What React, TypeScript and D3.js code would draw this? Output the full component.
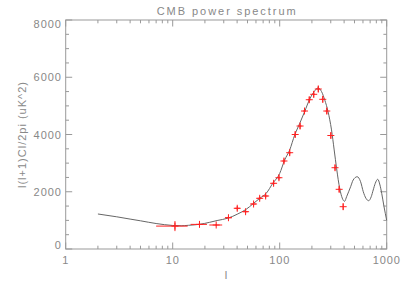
import * as d3 from 'd3'

// theory curve (multipole l, l(l+1)Cl/2pi)
const curveL = [2, 3, 4, 5, 7, 10, 12, 14, 18, 22, 26, 32.7, 40.6, 48.7, 56, 65, 75, 86, 100, 111, 124, 138, 154, 171, 191, 210, 228, 246, 264, 283, 305, 323, 340, 365, 404, 422, 460, 486, 530, 570, 604, 640, 678, 717, 748, 782, 824, 865, 898, 944, 1000]
const curveCl = [1223, 1125, 1045, 985, 890, 822, 812, 828, 865, 930, 995, 1075, 1225, 1390, 1570, 1770, 1950, 2290, 2640, 3100, 3460, 3980, 4390, 4800, 5240, 5500, 5625, 5500, 5200, 4800, 4160, 3460, 2820, 2090, 1666, 1827, 2176, 2410, 2525, 2351, 2001, 1771, 1687, 1827, 2061, 2295, 2435, 2236, 1946, 1478, 1000]

// measured band powers
const obsL = [10.5, 17.8, 25.5, 33.2, 40.1, 48, 57, 65, 73.9, 87.7, 98.4, 109.6, 124, 139.6, 155, 170.6, 188.9, 208, 229.4, 252.7, 275.6, 300.5, 329, 359.5, 391.8]
const obsCl = [800, 860, 838, 1093, 1422, 1303, 1572, 1771, 1851, 2295, 2490, 3074, 3364, 4000, 4296, 4820, 5215, 5404, 5589, 5229, 4820, 3965, 2840, 2085, 1478]
const obsLo = [7, 14.7, 22, 31, 38, 45.5, 54, 62, 70.5, 84, 95, 106, 120, 135, 150, 165, 183, 202, 222, 245, 268, 293, 322, 352, 388]
const obsHi = [13.8, 20.9, 29, 35.5, 42.5, 50.5, 60, 68, 77.5, 91, 102, 113, 128, 144, 160, 176, 195, 214, 237, 260, 283, 308, 336, 367, 396]
const obsErr = [175, 60, 40, 60, 80, 60, 60, 70, 80, 80, 90, 90, 100, 100, 100, 100, 100, 110, 110, 110, 110, 100, 100, 100, 110]

const xMajor = [1, 10, 100, 1000]
const xLabels = ['1', '10', '100', '1000']
const yMajor = [0, 2000, 4000, 6000, 8000]
const yLabels = ['0', '2000', '4000', '6000', '8000']

const W = 407
const H = 291
const left = 65.7
const right = 386.7
const top = 20
const bottom = 249

const axisColor = '#999'
const textColor = '#888'
const red = '#f22'
const font = 'Liberation Sans, Arial, sans-serif'

export default function App() {
  const x = d3.scaleLog().domain([1, 1000]).range([left, right])
  const y = d3.scaleLinear().domain([0, 8000]).range([bottom, top])

  const xMinor: number[] = []
  for (const dec of [1, 10, 100]) for (let k = 2; k <= 9; k++) xMinor.push(dec * k)
  const yMinor = d3.range(500, 8000, 500).filter((v) => v % 2000 !== 0)

  const line = d3
    .line<number>()
    .x((_, i) => x(curveL[i]))
    .y((d) => y(d))
    .curve(d3.curveMonotoneX)

  const mk = 3.5

  return (
    <div style={{ position: 'absolute', left: 0, top: 0 }}>
      <svg width={W} height={H} viewBox={`0 0 ${W} ${H}`} style={{ display: 'block', background: '#fff' }}>
        <rect x={left} y={top} width={right - left} height={bottom - top} fill="none" stroke={axisColor} strokeWidth={1} />

        {/* x ticks top and bottom */}
        {xMajor.map((t) => (
          <g key={'xM' + t} stroke={axisColor}>
            <line x1={x(t)} x2={x(t)} y1={bottom} y2={bottom - 6.5} />
            <line x1={x(t)} x2={x(t)} y1={top} y2={top + 6.5} />
          </g>
        ))}
        {xMinor.map((t) => (
          <g key={'xm' + t} stroke={axisColor}>
            <line x1={x(t)} x2={x(t)} y1={bottom} y2={bottom - 3.3} />
            <line x1={x(t)} x2={x(t)} y1={top} y2={top + 3.3} />
          </g>
        ))}
        {/* y ticks left and right */}
        {yMajor.map((t) => (
          <g key={'yM' + t} stroke={axisColor}>
            <line x1={left} x2={left + 6.5} y1={y(t)} y2={y(t)} />
            <line x1={right} x2={right - 6.5} y1={y(t)} y2={y(t)} />
          </g>
        ))}
        {yMinor.map((t) => (
          <g key={'ym' + t} stroke={axisColor}>
            <line x1={left} x2={left + 3.3} y1={y(t)} y2={y(t)} />
            <line x1={right} x2={right - 3.3} y1={y(t)} y2={y(t)} />
          </g>
        ))}

        {/* tick labels */}
        <g fontFamily={font} fontSize={11} fill={textColor} letterSpacing={0.9}>
          {xMajor.map((t, i) => (
            <text key={'xl' + t} x={x(t)} y={264} textAnchor="middle">
              {xLabels[i]}
            </text>
          ))}
          {yMajor.map((t, i) => (
            <text
              key={'yl' + t}
              x={61.7}
              y={Math.min(bottom - 3.7, Math.max(top + 4, y(t)))}
              textAnchor="end"
              dominantBaseline="central"
            >
              {yLabels[i]}
            </text>
          ))}
        </g>

        <text x={(left + right) / 2} y={14.7} textAnchor="middle" fontFamily={font} fontSize={11} fill={textColor} textLength={139} lengthAdjust="spacing">
          CMB power spectrum
        </text>
        <text x={226} y={279} textAnchor="middle" fontFamily={font} fontSize={11} fill={textColor}>
          l
        </text>
        <text
          transform="translate(26,135) rotate(-90)"
          textAnchor="middle"
          fontFamily={font}
          fontSize={11}
          fill={textColor}
          textLength={106}
          lengthAdjust="spacing"
        >
          l(l+1)Cl/2pi (uK^2)
        </text>

        {/* theory curve */}
        <path d={line(curveCl) ?? ''} fill="none" stroke="#666" strokeWidth={1} />

        {/* data with error bars */}
        <g stroke={red} strokeWidth={1} fill="none">
          {obsL.map((l, i) => {
            const cx = x(l)
            const cy = y(obsCl[i])
            return (
              <g key={'p' + i}>
                <line x1={x(obsLo[i])} x2={x(obsHi[i])} y1={cy} y2={cy} />
                <line x1={cx} x2={cx} y1={y(obsCl[i] - obsErr[i])} y2={y(obsCl[i] + obsErr[i])} />
                <line x1={cx - mk} x2={cx + mk} y1={cy} y2={cy} />
                <line x1={cx} x2={cx} y1={cy - mk} y2={cy + mk} />
              </g>
            )
          })}
        </g>
      </svg>
    </div>
  )
}
